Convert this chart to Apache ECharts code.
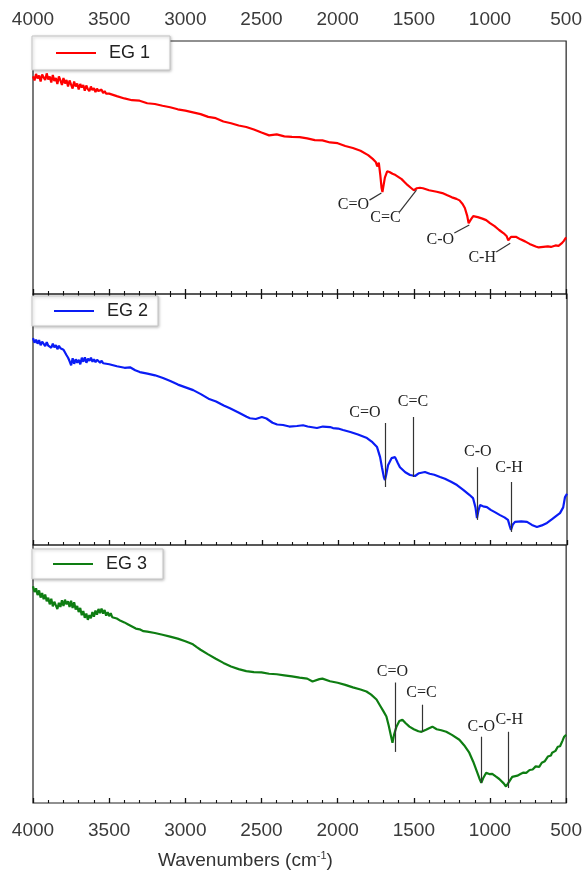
<!DOCTYPE html>
<html>
<head>
<meta charset="utf-8">
<script src="https://cdn.jsdelivr.net/npm/echarts@6/dist/echarts.min.js"></script>
<style>
  html, body { margin: 0; padding: 0; background: #fff; }
  #main { width: 585px; height: 875px; }
</style>
</head>
<body>
<div id="main"></div>
<script>
// wavenumber ticks
var wnMin = 500, wnMax = 4000, wnStep = 500;

// EG 1 spectrum (relative transmittance, % of panel height)
var eg1Wn = [4000,3990,3980,3970,3960,3950,3940,3930,3920,3910,3900,3890,3880,3870,3860,3850,3840,3830,3820,3810,3800,3790,3780,3770,3760,3750,3740,3730,3720,3710,
  3700,3690,3680,3670,3660,3650,3640,3630,3620,3610,3600,3590,3580,3570,3560,3550,3540,3530,3520,3510,3500,
  3450,3400,3350,3300,3250,3200,3150,3100,3050,3000,2950,2900,2850,2800,2750,2700,2650,2600,2550,2500,2450,2400,2350,2300,2250,2200,2150,2100,2050,2000,
  1950,1900,1850,1800,1770,1750,1740,1730,1720,1712,1706,1700,1690,1675,1660,1640,1620,1600,1580,1560,1540,1520,1500,1480,1460,1440,1400,1350,1313,
  1280,1250,1220,1200,1180,1165,1150,1140,1135,1125,1110,1080,1050,1025,1000,970,940,910,890,880,872,862,850,830,800,770,740,700,680,650,620,600,570,550,530,515,500];
var eg1T = [86.0,84.4,87.0,85.2,86.4,84.0,86.8,85.6,84.6,87.2,84.8,86.0,83.6,86.6,84.2,85.4,83.0,86.0,84.4,82.6,85.4,83.2,84.6,82.0,84.4,82.8,81.2,84.0,82.0,83.2,
  80.8,83.0,81.6,82.6,80.4,82.4,81.0,80.2,82.0,80.6,81.4,79.8,81.2,80.2,79.6,80.8,79.4,80.2,79.2,79.8,79.2,
  78.2,77.3,76.6,76.4,75.4,75.1,74.4,73.8,73.0,72.5,71.8,71.1,70.0,69.5,68.2,67.5,66.6,66.0,65.0,63.8,62.7,63.1,62.3,62.1,62.0,61.5,60.8,60.7,59.9,59.6,
  58.5,57.7,56.6,54.9,53.4,52.2,50.4,51.9,47.0,42.0,40.3,42.5,46.0,48.5,48.2,47.5,47.0,46.2,45.4,44.2,43.0,42.0,41.0,41.8,42.0,41.8,41.0,40.4,39.9,
  39.0,38.2,37.6,37.0,35.6,34.0,31.0,28.0,27.3,29.5,30.8,30.4,29.8,29.2,28.0,26.8,25.3,24.0,22.8,21.2,20.9,22.6,23.3,22.6,21.6,20.8,19.8,18.8,18.4,18.6,18.8,18.6,19.2,19.0,20.0,21.0,22.4];

// EG 2 spectrum
var eg2Wn = [4000,3990,3980,3970,3960,3950,3940,3930,3920,3910,3900,3890,3880,3870,3860,3850,3840,3830,3820,3810,3800,3790,3780,3770,3760,3750,3740,3730,3720,3710,
  3700,3690,3680,3670,3660,3650,3640,3630,3620,3610,3600,3590,3580,3570,3560,3550,3540,3530,3520,3510,3500,
  3450,3400,3364,3330,3300,3250,3200,3148,3100,3050,3000,2950,2925,2900,2850,2800,2750,2709,2650,2600,2578,2540,2500,2470,2430,2400,2361,2320,2270,2230,2200,2139,2100,2053,2034,2000,
  1968,1920,1870,1811,1780,1745,1725,1713,1700,1693,1685,1673,1650,1627,1610,1595,1560,1529,1496,1470,1431,1400,1370,1332,1300,1260,1221,1180,1140,1116,1100,1090,1080,1070,1050,1025,
  1000,970,939,910,887,875,867,855,841,800,762,730,697,665,631,600,570,546,525,513,500];
var eg2T = [82.4,80.6,81.8,80.2,81.6,79.6,81.0,80.4,79.2,80.8,79.4,80.0,78.6,80.2,78.8,79.6,78.0,79.4,78.4,79.0,77.8,77.2,75.6,74.6,73.2,71.6,74.4,72.2,74.0,72.6,
  73.8,72.0,74.6,73.0,74.8,72.6,74.2,73.4,74.6,73.0,74.0,72.8,73.8,73.2,72.6,73.4,72.4,72.8,72.2,72.6,72.0,
  71.2,70.6,70.8,69.6,68.9,68.3,67.6,66.5,65.3,63.9,62.8,61.7,60.9,60.1,58.3,57.2,55.6,54.5,52.7,51.1,50.5,50.2,51.0,50.4,48.7,48.0,47.8,47.2,47.4,47.7,47.2,46.6,47.2,47.0,46.6,46.4,
  45.8,45.0,44.0,42.6,41.2,39.0,35.0,31.0,27.0,25.9,28.0,31.8,34.6,35.0,32.8,31.0,29.0,27.9,27.5,28.6,29.1,28.4,28.0,27.1,26.4,25.2,23.9,22.0,20.0,18.7,15.0,10.7,13.8,15.9,15.4,15.1,
  14.0,13.0,11.9,11.0,10.0,7.5,6.0,8.2,9.2,9.4,9.2,8.0,7.2,7.8,8.8,10.2,11.6,12.7,15.0,19.1,20.4];

// EG 3 spectrum
var eg3Wn = [4000,3990,3980,3970,3960,3950,3940,3930,3920,3910,3900,3890,3880,3870,3860,3850,3840,3830,3820,3810,3800,3790,3780,3770,3760,3750,3740,3730,3720,3710,
  3700,3690,3680,3670,3660,3650,3640,3630,3620,3610,3600,3590,3580,3570,3560,3550,3540,3530,3520,3510,3500,3490,3480,3470,
  3450,3425,3400,3375,3350,3325,3300,3275,3250,3200,3150,3100,3050,3000,2950,2925,2900,2850,2800,2750,2700,2650,2600,2550,2500,2450,2400,2350,2300,2250,2200,2165,2120,2100,2050,2000,
  1950,1900,1850,1811,1780,1745,1720,1700,1680,1665,1650,1640,1630,1614,1595,1575,1555,1529,1500,1470,1450,1420,1400,1378,1350,1320,1287,1250,1201,1170,1136,1110,1090,1070,1057,1045,1025,
  1005,985,960,939,910,895,887,875,854,820,800,780,762,740,720,700,677,660,640,620,600,592,570,555,540,525,513,500];
var eg3T = [84.0,81.8,83.2,80.6,82.4,79.6,81.4,79.0,80.8,78.2,79.6,77.0,79.2,76.2,78.0,76.6,75.2,77.6,76.0,78.6,76.4,78.8,77.0,78.2,76.0,78.4,75.6,77.8,75.0,76.4,
  74.0,75.6,72.8,74.4,71.8,73.4,71.0,72.8,71.6,74.0,72.2,74.6,73.0,75.2,73.6,75.4,73.4,74.8,72.6,74.0,72.4,73.6,72.0,72.4,
  71.5,70.6,70.0,69.2,68.4,67.6,67.3,66.6,66.4,65.9,65.2,64.5,63.7,62.7,61.5,60.4,59.4,57.6,55.9,54.3,52.9,51.9,51.1,50.7,50.6,50.1,49.9,49.5,49.1,48.6,48.2,47.1,48.0,48.2,47.2,46.6,
  45.8,44.8,44.0,43.2,42.0,40.1,37.6,35.6,33.5,30.0,26.0,23.3,26.4,29.6,31.8,32.3,31.0,29.6,28.6,27.8,27.6,28.4,29.0,29.6,28.6,28.2,27.6,26.4,24.5,22.4,19.5,16.0,12.8,9.6,7.8,9.6,11.7,
  11.2,11.3,10.2,9.3,7.6,6.4,5.8,8.2,10.1,10.6,11.2,11.8,11.7,12.8,13.0,14.2,14.0,15.6,16.2,18.0,18.4,19.5,20.2,21.8,22.0,24.0,25.7,26.4];

// peak labels: [text, textWn, textT, lineWn1, lineT1, lineWn2, lineT2]
var eg1Peaks = [
  ['C=O', 1896, 35.2, 1791, 37.1, 1713, 39.9],
  ['C=C', 1686, 30.0, 1595, 32.4, 1483, 41.1],
  ['C-O', 1326, 21.3, 1234, 24.1, 1136, 27.3],
  ['C-H', 1051, 14.2, 959, 16.6, 867, 20.1]
];
var eg2Peaks = [
  ['C=O', 1824, 52.5, 1693, 48.6, 1693, 23.1],
  ['C=C', 1510, 56.9, 1510, 51.0, 1510, 27.1],
  ['C-O', 1084, 37.0, 1090, 31.0, 1090, 10.0],
  ['C-H', 880, 30.6, 867, 25.1, 867, 5.2]
];
var eg3Peaks = [
  ['C=O', 1640, 51.0, 1621, 46.7, 1621, 19.8],
  ['C=C', 1450, 42.8, 1444, 38.1, 1444, 27.6],
  ['C-O', 1057, 29.6, 1057, 25.7, 1057, 7.8],
  ['C-H', 874, 32.3, 880, 27.6, 880, 5.8]
];

function pairs(xs, ys) {
  var out = [];
  for (var i = 0; i < xs.length; i++) out.push([xs[i], ys[i]]);
  return out;
}

function peakLines(pk) {
  var d = [];
  for (var i = 0; i < pk.length; i++) {
    d.push([{coord: [pk[i][3], pk[i][4]]}, {coord: [pk[i][5], pk[i][6]]}]);
  }
  return {
    silent: true, symbol: ['none', 'none'],
    lineStyle: {color: '#333', width: 1.2, type: 'solid'},
    label: {show: false},
    data: d
  };
}

function peakTexts(pk) {
  var d = [];
  for (var i = 0; i < pk.length; i++) {
    d.push({name: pk[i][0], coord: [pk[i][1], pk[i][2]]});
  }
  return {
    silent: true, symbol: 'circle', symbolSize: 1,
    itemStyle: {color: 'rgba(0,0,0,0)'},
    label: {show: true, position: 'inside', formatter: '{b}', color: '#222',
            fontFamily: 'Liberation Serif', fontSize: 16},
    data: d
  };
}

function Ext(a, b) { for (var k in b) a[k] = b[k]; return a; }

var tickStyle = {
  axisTick: {show: true, inside: true, length: 5, lineStyle: {color: '#111', width: 1.3}},
  minorTick: {show: true, splitNumber: 5, length: 3, lineStyle: {color: '#111', width: 1.1}}
};

function xAx(grid, pos, labels) {
  return Ext({
    type: 'value', gridIndex: grid, position: pos, inverse: true,
    min: wnMin, max: wnMax, interval: wnStep,
    axisLine: {show: false},
    splitLine: {show: false},
    axisLabel: {show: labels, margin: pos === 'top' ? 12 : 18, fontFamily: 'Liberation Sans',
                fontSize: 19, color: '#3a3a3a',
                formatter: function (v) { return String(v); }}
  }, tickStyle);
}

function legendFor(name, top, pad) {
  return {
    data: [name], left: 32, top: top, orient: 'horizontal',
    icon: 'rect', itemWidth: 40, itemHeight: 2,
    padding: pad,
    backgroundColor: '#fff', borderColor: '#c4c4c4', borderWidth: 1,
    shadowBlur: 3, shadowColor: 'rgba(0,0,0,0.25)', shadowOffsetX: 1, shadowOffsetY: 1,
    textStyle: {fontFamily: 'Liberation Sans', fontSize: 18, color: '#222', padding: [0, 0, 0, 8]},
    selectedMode: false
  };
}

var myChart = echarts.init(document.getElementById('main'));

var gridBase = {left: 33, right: 18, show: true, borderColor: '#222', borderWidth: 1.2, backgroundColor: 'rgba(0,0,0,0)'};

var option = {
  animation: false,
  title: {
    text: 'Wavenumbers (cm{sup|-1})',
    left: 153, top: 845,
    textStyle: {
      fontFamily: 'Liberation Sans', fontSize: 19, fontWeight: 'normal', color: '#333',
      rich: {sup: {fontFamily: 'Liberation Sans', fontSize: 11, color: '#333', verticalAlign: 'top', padding: [0, 0, 10, 0]}}
    }
  },
  legend: [
    legendFor('EG 1', 36, [8, 20, 8, 24]),
    legendFor('EG 2', 296, [6, 10, 6, 22]),
    legendFor('EG 3', 549, [6, 16, 6, 21])
  ],
  grid: [
    Ext({top: 41, height: 253}, gridBase),
    Ext({top: 294, height: 251}, gridBase),
    Ext({top: 545, height: 258}, gridBase)
  ],
  xAxis: [
    xAx(0, 'top', true),
    xAx(0, 'bottom', false),
    xAx(1, 'bottom', false),
    xAx(2, 'bottom', true)
  ],
  yAxis: [
    {type: 'value', gridIndex: 0, min: 0, max: 100, show: false},
    {type: 'value', gridIndex: 1, min: 0, max: 100, show: false},
    {type: 'value', gridIndex: 2, min: 0, max: 100, show: false}
  ],
  series: [
    {
      name: 'EG 1', type: 'line', xAxisIndex: 0, yAxisIndex: 0,
      data: pairs(eg1Wn, eg1T), showSymbol: false, symbol: 'none',
      lineStyle: {color: '#ff0000', width: 2.2}, itemStyle: {color: '#ff0000'},
      markLine: peakLines(eg1Peaks), markPoint: peakTexts(eg1Peaks)
    },
    {
      name: 'EG 2', type: 'line', xAxisIndex: 2, yAxisIndex: 1,
      data: pairs(eg2Wn, eg2T), showSymbol: false, symbol: 'none',
      lineStyle: {color: '#0a1cf5', width: 2.2}, itemStyle: {color: '#0a1cf5'},
      markLine: peakLines(eg2Peaks), markPoint: peakTexts(eg2Peaks)
    },
    {
      name: 'EG 3', type: 'line', xAxisIndex: 3, yAxisIndex: 2,
      data: pairs(eg3Wn, eg3T), showSymbol: false, symbol: 'none',
      lineStyle: {color: '#0e7d12', width: 2.2}, itemStyle: {color: '#0e7d12'},
      markLine: peakLines(eg3Peaks), markPoint: peakTexts(eg3Peaks)
    }
  ]
};

myChart.setOption(option);
</script>
</body>
</html>
